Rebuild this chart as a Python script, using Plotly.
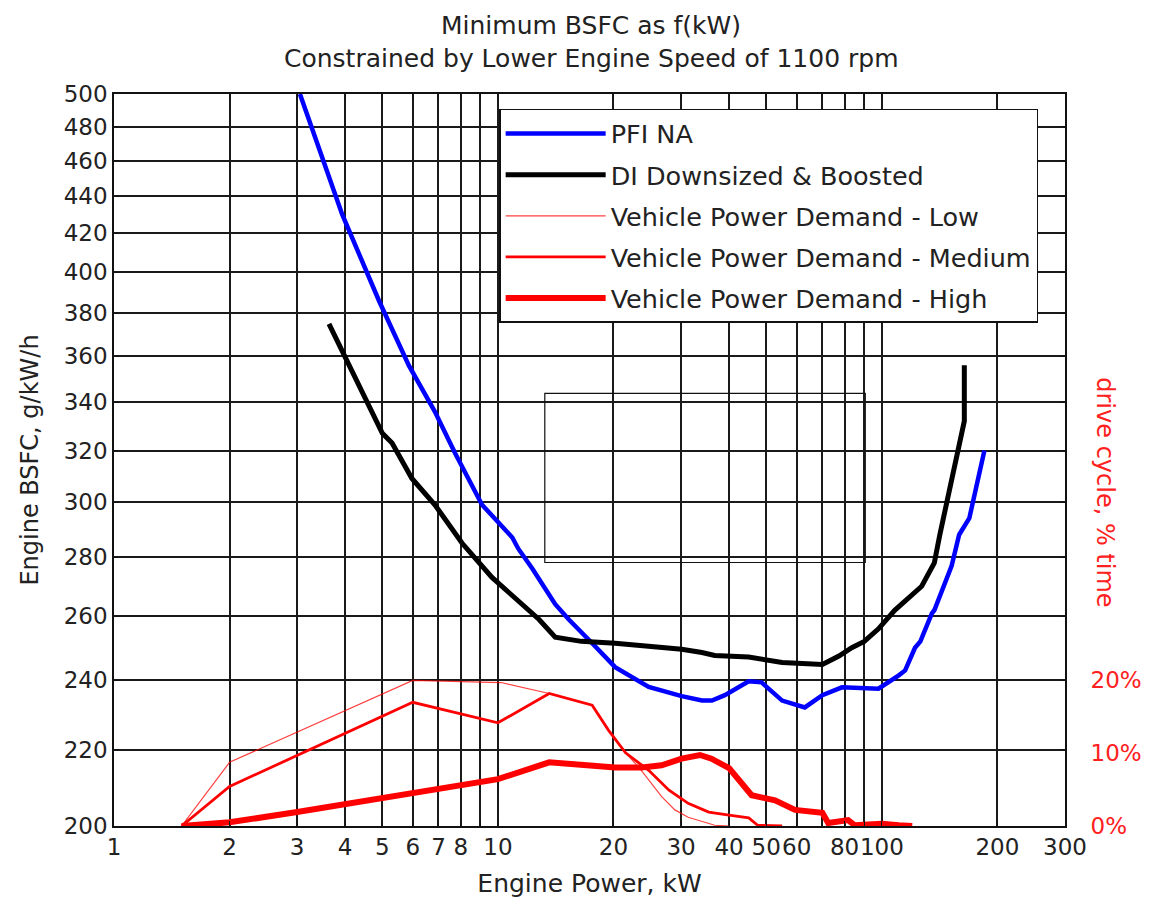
import plotly.graph_objects as go

# ---- data ----
pfi_kw = [3.05, 3.93, 4.9, 5.86, 6.85, 7.73, 9.09, 10.07, 10.9, 11.3, 12.3, 14.1, 15.3, 17.6,
          20.2, 24.7, 30.1, 34, 36.1, 39, 45, 48.6, 55, 63, 70, 78.7, 98, 110.7, 115, 122,
          126, 135, 137, 152, 159, 169, 180, 185]
pfi_bsfc = [500, 430, 386, 356, 336, 319, 299, 292, 287, 283, 276, 264, 259, 251.4,
            244, 238, 235.3, 234, 234, 235.6, 239.7, 239.4, 234, 232, 235.6, 237.9, 237.5, 241.5, 243, 250,
            252, 261, 262, 277, 288, 294, 311, 320]

di_kw = [3.63, 4.0, 5.0, 5.3, 5.97, 6.85, 8.06, 9.65, 11.07, 12.8, 14.1, 16.5, 20.2, 27.2,
         30.1, 34, 36.7, 45, 55, 70, 77.3, 83.5, 90, 98, 108, 127, 137, 141.6, 147.6, 155,
         164, 164]
di_bsfc = [375, 360, 327, 323, 309, 299, 285, 273, 266, 259, 253.3, 252, 251.4, 250,
           249.5, 248.5, 247.6, 247.1, 245.4, 244.8, 247.4, 250, 252, 256, 262, 270, 278, 288, 300, 316,
           332, 356]

low_kw = [1.5, 2, 6, 10.2, 13.6, 17.6, 19.4, 21.5, 23.3, 24.7, 26.7, 28.9, 31.3, 36.7, 40]
low_pct = [0, 8.7, 19.9, 19.6, 18.1, 16.5, 13.1, 10.0, 8.0, 6.3, 4.0, 2.2, 1.2, 0.1, 0]

med_kw = [1.5, 2, 6, 10, 13.6, 17.6, 19.4, 21.5, 24.7, 27.9, 31.3, 35.4, 40, 45, 47.5, 55]
med_pct = [0, 5.4, 16.9, 14.1, 18.1, 16.5, 13.1, 10.0, 7.6, 4.9, 3.1, 1.9, 1.5, 1.1, 0.1, 0]

high_kw = [1.5, 2, 3, 6, 10, 13.6, 17.6, 20.2, 23.7, 26.7, 30.1, 33.6, 36, 40, 45.8, 52.7,
           59.4, 70, 72.5, 78, 81.7, 85, 100, 110.7, 120]
high_pct = [0, 0.5, 1.9, 4.5, 6.4, 8.7, 8.3, 8.0, 8.0, 8.3, 9.2, 9.7, 9.2, 7.9, 4.2, 3.5,
            2.2, 1.8, 0.4, 0.6, 0.8, 0.1, 0.3, 0.1, 0]

x_tickvals = [1, 2, 3, 4, 5, 6, 7, 8, 9, 10, 20, 30, 40, 50, 60, 70, 80, 90, 100, 200, 300]
x_ticktext = ["1", "2", "3", "4", "5", "6", "7", "8", "", "10", "20", "30", "40", "50", "60",
              "", "80", "", "100", "200", "300"]
y_tickvals = [200, 220, 240, 260, 280, 300, 320, 340, 360, 380, 400, 420, 440, 460, 480, 500]
y2_tickvals = [0, 10, 20]
y2_ticktext = ["0%", "10%", "20%"]

title_lines = ["Minimum BSFC as f(kW)", "Constrained by Lower Engine Speed of 1100 rpm"]

FONT = "DejaVu Sans"
TXT = "#222222"
RED_TXT = "#ff2020"

fig = go.Figure()
fig.add_trace(go.Scatter(x=pfi_kw, y=pfi_bsfc, mode="lines", name="PFI NA",
                         line=dict(color="#0000ff", width=4.5), legendgroup="a"))
fig.add_trace(go.Scatter(x=di_kw, y=di_bsfc, mode="lines", name="DI Downsized &amp; Boosted",
                         line=dict(color="#000000", width=5), legendgroup="b"))
fig.add_trace(go.Scatter(x=low_kw, y=low_pct, mode="lines", name="Vehicle Power Demand - Low",
                         line=dict(color="rgba(255,0,0,0.75)", width=1.2), yaxis="y2", legendgroup="c"))
fig.add_trace(go.Scatter(x=med_kw, y=med_pct, mode="lines", name="Vehicle Power Demand - Medium",
                         line=dict(color="#ff0000", width=2.8), yaxis="y2", legendgroup="d"))
fig.add_trace(go.Scatter(x=high_kw, y=high_pct, mode="lines", name="Vehicle Power Demand - High",
                         line=dict(color="#ff0000", width=6), yaxis="y2", legendgroup="e"))

fig.update_layout(
    width=1157, height=907,
    margin=dict(l=106, r=100, t=86, b=89, autoexpand=False),
    paper_bgcolor="white", plot_bgcolor="white",
    font=dict(family=FONT, color=TXT, size=22),
    xaxis=dict(type="log", range=[0, 2.4771], tickvals=x_tickvals, ticktext=x_ticktext,
               tickangle=0,
               showgrid=True, gridcolor="#1a1a1a", gridwidth=1.6,
               showline=True, linecolor="#111", linewidth=1.5, mirror="ticks",
               ticks="inside", ticklen=5, tickcolor="#111",
               tickfont=dict(size=23, color=TXT), zeroline=False,
               title=dict(text="Engine Power, kW", font=dict(size=25, color=TXT), standoff=15)),
    yaxis=dict(type="log", range=[2.30103, 2.69897], tickvals=y_tickvals,
               showgrid=True, gridcolor="#1a1a1a", gridwidth=1.6,
               showline=True, linecolor="#111", linewidth=1.5, mirror="ticks",
               ticks="inside", ticklen=5, tickcolor="#111",
               tickfont=dict(size=23, color=TXT), zeroline=False,
               title=dict(text="Engine BSFC, g/kW/h", font=dict(size=24, color=TXT), standoff=18)),
    yaxis2=dict(overlaying="y", side="right", range=[0, 100], tickvals=y2_tickvals,
                ticktext=y2_ticktext, showgrid=False, zeroline=False, showline=False,
                ticks="outside", ticklen=20, tickcolor="rgba(0,0,0,0)",
                tickfont=dict(size=23, color=RED_TXT)),
    legend=dict(x=0.405, xanchor="left", y=0.9796, yanchor="top",
                bgcolor="white", bordercolor="#111", borderwidth=1.5,
                font=dict(size=25.5, color=TXT), tracegroupgap=5, itemwidth=100,
                traceorder="grouped"),
    showlegend=True,
)

fig.add_annotation(text=title_lines[0], xref="paper", yref="paper", x=0.5016, y=1.1165,
                   showarrow=False, xanchor="center", yanchor="top",
                   font=dict(size=25, color=TXT))
fig.add_annotation(text=title_lines[1], xref="paper", yref="paper", x=0.5016, y=1.049,
                   showarrow=False, xanchor="center", yanchor="middle",
                   font=dict(size=25, color=TXT))

fig.add_shape(type="rect", xref="paper", yref="paper", x0=0.453, x1=0.790, y0=0.360, y1=0.591,
              line=dict(color="#111", width=1.2), fillcolor="rgba(0,0,0,0)", layer="above")

fig.add_annotation(text="drive cycle, % time", xref="paper", yref="paper", x=1.042, y=0.456,
                   showarrow=False, textangle=90, font=dict(size=24, color=RED_TXT),
                   xanchor="center", yanchor="middle")

fig.write_html("out.html")
